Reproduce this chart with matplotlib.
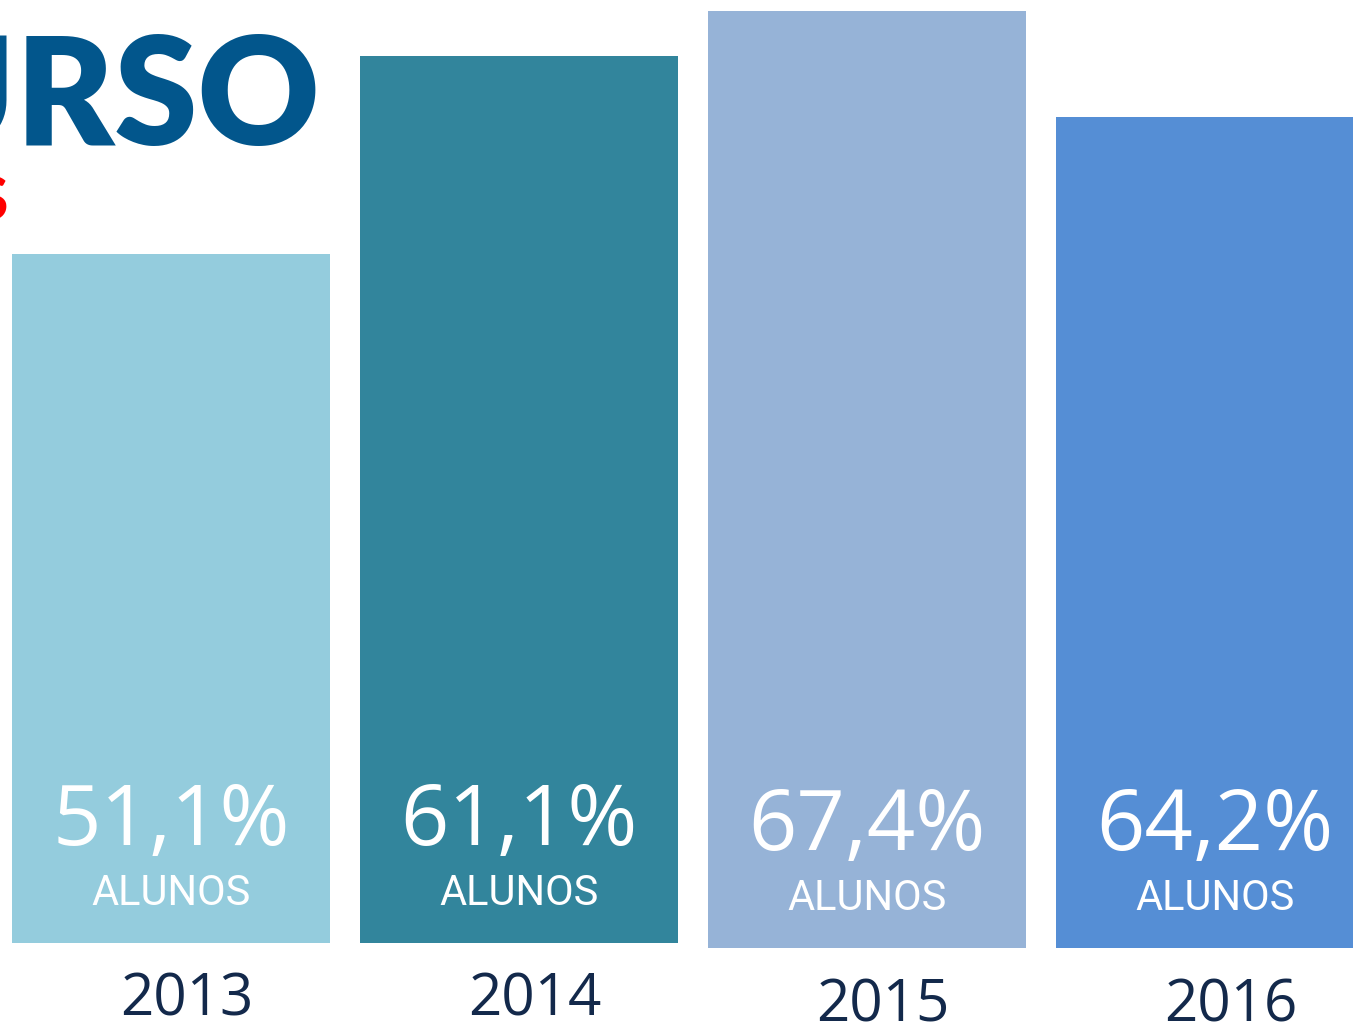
import matplotlib
matplotlib.use("Agg")
import matplotlib.pyplot as plt

# ---- data ----
years = ["2013", "2014", "2015", "2016"]
pct_labels = ["51,1%", "61,1%", "67,4%", "64,2%"]
bar_heights = [68.9, 88.7, 93.7, 83.1]   # visual bar heights (arbitrary units)
sub_label = "ALUNOS"
title_text = "CURSO"
sub_title_text = "S"

colors = ["#94CCDD", "#32859C", "#96B3D7", "#558ED5"]
drop = [0.0, 0.0, 0.5, 0.5]

W, H, DPI = 1353, 1024, 100
fig = plt.figure(figsize=(W / DPI, H / DPI), dpi=DPI, facecolor="white")
ax = fig.add_axes([0, 0, 1, 1])
ax.set_axis_off()

# 1 x-unit = 348 px, 1 y-unit = 10 px
ax.set_xlim(-171 / 348, (W - 171) / 348)
ax.set_ylim(-8.1, 94.3)

xs = list(range(len(years)))
bottoms = [-d for d in drop]
ax.bar(xs, bar_heights, width=318 / 348, bottom=bottoms, color=colors,
       edgecolor="none", zorder=2)

num_font = "Open Sans"
for x, lab, d in zip(xs, pct_labels, drop):
    ax.text(x, 9.8 - d, lab, ha="center", va="baseline", color="white",
            fontsize=61, family=num_font, zorder=3)
    ax.text(x, 3.8 - d, sub_label, ha="center", va="baseline", color="white",
            fontsize=30, family="Roboto", zorder=3)

for x, yr, d in zip(xs, years, drop):
    ax.text(x + 0.045, -7.3 - d, yr, ha="center", va="baseline",
            color="#13294B", fontsize=42, family=num_font, zorder=3)

# clipped title pieces at the top-left
fig.text(320 / W, 1 - 145 / H, title_text, ha="right", va="baseline",
         color="#02568C", fontsize=108, fontweight="heavy", family="Lato")
fig.text(8 / W, 1 - 220 / H, sub_title_text, ha="right", va="baseline",
         color="#FF0000", fontsize=44, fontweight="bold", family="Lato")

fig.savefig("out.png", dpi=DPI, facecolor="white")
